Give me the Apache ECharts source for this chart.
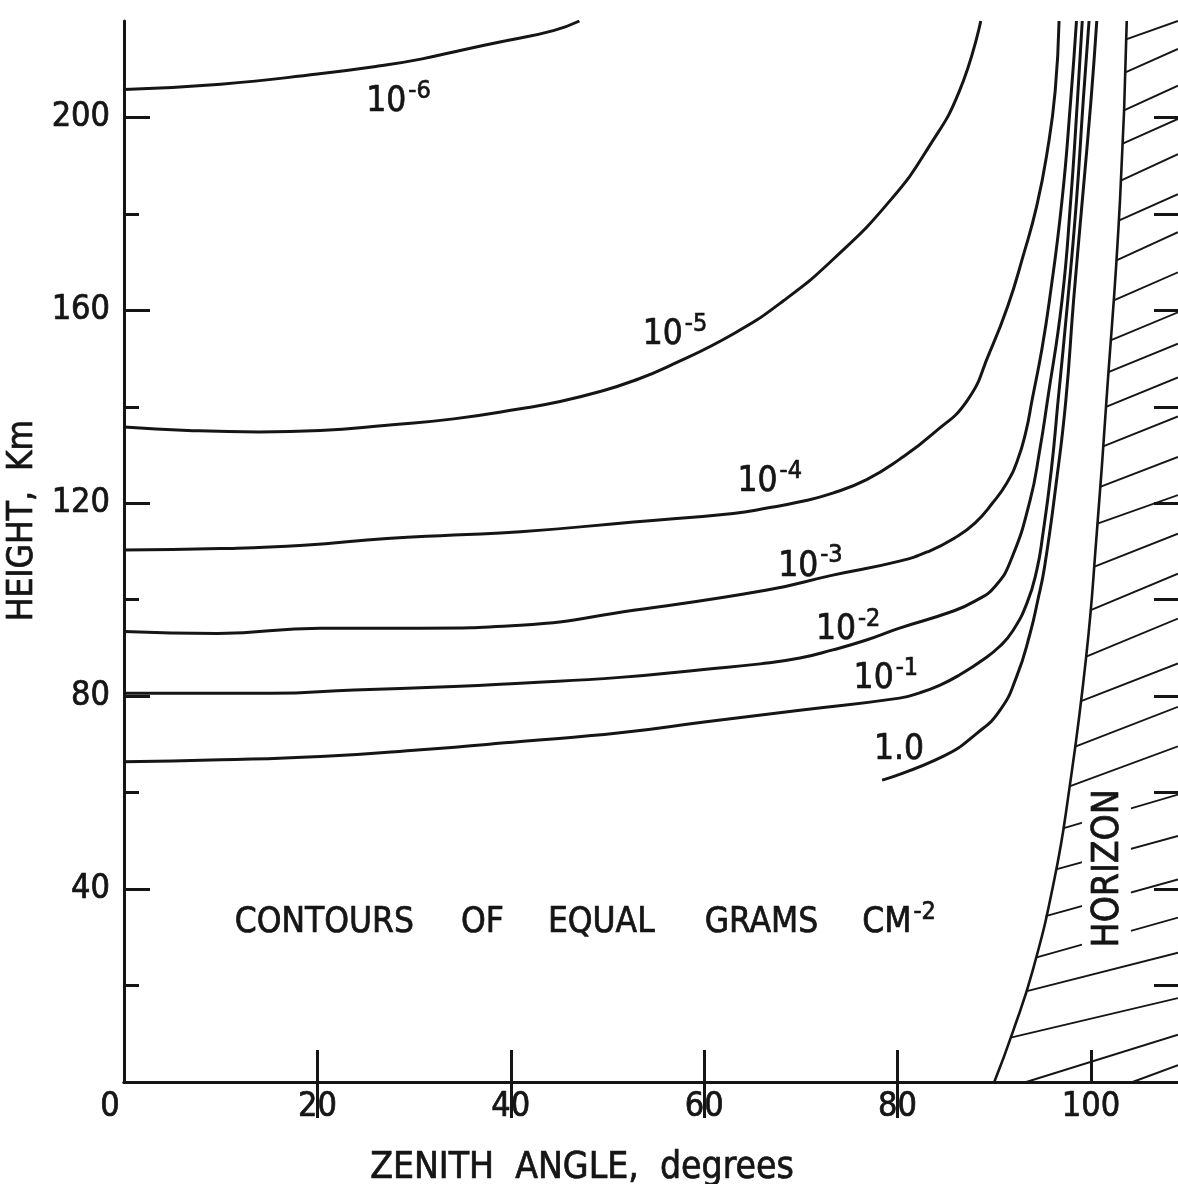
<!DOCTYPE html>
<html><head><meta charset="utf-8">
<script src="https://cdn.jsdelivr.net/npm/echarts@6/dist/echarts.min.js"></script>
<style>html,body{margin:0;padding:0;background:#fff}#c{width:1178px;height:1184px}</style>
</head><body><div id="c"></div>
<script>
// ---------------- data (zenith angle in degrees, height in km) ----------------
const xLabelValues = [0, 20, 40, 60, 80, 100];
const xBottomTicks = [20, 40, 60, 80, 100];
const xTopTicks = [20, 40, 60, 80];
const yLabelValues = [40, 80, 120, 160, 200];
const yMinorTicks = [20, 60, 100, 140, 180];
const yRightTicks = [20, 40, 60, 80, 100, 120, 140, 160, 180, 200];

const contour1e6 = [[0,205.8],[10,206.9],[20,209.0],[26.5,210.7],[30.7,212.1],[35,214.0],[39.5,215.9],[44.4,218.0],[47.1,220]];
const contour1e5 = [[0,135.8],[6.6,135.1],[14,134.8],[20.3,135.1],[27.2,136.2],[34.1,137.5],[41,139.6],[45.1,141.1],[49.3,143.2],[52.7,145.4],[56.2,148.3],[63,155.1],[68.2,162],[73.4,170.7],[79.2,182.7],[83.3,194.1],[86.4,205.5],[88.6,220]];
const contour1e4 = [[0,110.3],[10,110.6],[18.6,111.3],[27.2,112.7],[34.1,113.4],[41,114.1],[52.7,116.1],[63.0,117.9],[66.5,119.0],[69.9,120.3],[73.3,122.1],[76.8,124.9],[80.2,129.1],[83.7,134.5],[87.2,141.3],[89.5,151.2],[91.4,160.9],[93.0,171.4],[94.4,181.7],[95.5,193.2],[96.3,205.5],[96.7,220]];
const contour1e3 = [[0,93.4],[9.7,93.0],[20.3,94.1],[30.7,94.1],[41,94.7],[52.7,97.8],[66.5,102],[73.3,105.1],[80.2,108.0],[83.3,110.1],[85.9,112.8],[88.0,115.9],[89.8,120.0],[91.3,124.2],[92.4,128.9],[93.3,135.1],[93.9,141.3],[94.9,151.7],[95.7,162],[97.0,182.7],[97.9,203.5],[98.5,220]];
const contour1e2 = [[0,80.6],[9,80.6],[15.2,80.6],[23.8,81.3],[34.1,82.0],[41,82.7],[51.3,83.9],[60.2,85.6],[65.8,86.7],[69.9,87.9],[73.3,89.6],[76.7,91.6],[80.2,94.1],[85.4,97.4],[88.0,99.7],[90.1,102.8],[91.8,108.6],[93.7,120.6],[94.7,131.0],[95.5,141.3],[97.0,162],[97.9,182.7],[98.6,203.5],[99.1,220]];
const contour1e1 = [[0,66.4],[10,66.8],[20.3,67.5],[30.7,68.9],[41,70.6],[51.3,72.4],[60.2,74.7],[69.9,77.1],[80.2,79.6],[82.3,80.7],[84.4,82.3],[86.4,84.4],[88.8,87.5],[90.6,90.4],[91.9,93.5],[93.4,99.4],[94.4,106.2],[95.0,113.2],[95.9,126.9],[96.6,141.3],[97.6,162],[98.5,182.7],[99.2,203.5],[99.8,220]];
const contour1e0 = [[78.4,62.6],[84.7,67.5],[88.2,72.3],[90.6,77.1],[92.3,84.0],[93.7,93.0],[94.5,99.9],[95.2,106.8],[96.4,124.1],[97.4,141.3],[98.2,162],[99.1,182.7],[100.0,203.5],[100.6,220]];
const horizon = [[90,0],[91.9,10.3],[94.0,23.3],[96.2,41.9],[97.6,58.5],[99.5,88.1],[100.6,113.8],[101.6,141.3],[103.0,182.7],[103.7,220]];

// hatch strokes right of the horizon: height where each leaves the horizon, height at the right edge
const hatchStartKm = [216.2,209.3,201.4,194.5,186.9,178.6,170.3,162.0,153.8,147.2,140.0,131.8,123.4,115.8,106.8,97.8,88.2,78.9,69.5,61.3,52.6,44.1,34.4,25.8,18.8,9.2];
const hatchEndKm   = [220.0,214.2,206.6,199.7,192.4,184.1,176.2,167.9,159.6,153.1,146.1,138.0,129.6,121.7,113.7,105.4,96.1,86.8,77.8,69.6,59.6,51.0,42.0,34.1,26.8,17.4];
// strokes that start on the ground line: [start angle, end height]
const hatchGround = [[93.3, 9.8],[104.3, 3.5]];

const contourNames = ['10^-6','10^-5','10^-4','10^-3','10^-2','10^-1','1.0'];
const contourLabelPos = [[25.0,203.2],[53.6,154.9],[63.4,124.5],[67.6,106.9],[71.5,93.7],[75.4,83.5],[77.5,68.8]];
const noteWords = ['CONTOURS', 'OF', 'EQUAL', 'GRAMS', 'CM'];
const noteExponent = '-2';
const notePos = [11.4, 33.0];
const horizonText = 'HORIZON';
const horizonPos = [101.6, 44.3];

// ---------------- build ----------------
const FONT = '"Liberation Sans Narrow","DejaVu Sans Condensed","Arial Narrow",sans-serif';
const INK = '#151515';
const TB = { textBorderColor: INK, textBorderWidth: 0.7 };
const X_MAX = 109, Y_MAX = 220;

function horizonAngleAt(h) {
  for (let i = 0; i < horizon.length - 1; i++) {
    const a = horizon[i], b = horizon[i + 1];
    if (h >= a[1] && h <= b[1]) return a[0] + (b[0] - a[0]) * (h - a[1]) / (b[1] - a[1]);
  }
  return horizon[horizon.length - 1][0];
}
const hatchSegments = hatchStartKm.map((h, i) => ({ coords: [[horizonAngleAt(h), h], [X_MAX, hatchEndKm[i]]] }))
  .concat(hatchGround.map(g => ({ coords: [[g[0], 0], [X_MAX, g[1]]] })));

function richPow(t) {
  const p = t.split('^');
  return p.length > 1 ? '{b|' + p[0] + '}{s|' + p[1] + '}' : '{b|' + t + '}';
}
const wordGaps = [47, 44, 50, 44, 0];
const richStyles = {
  b: Object.assign({ fontFamily: FONT, fontSize: 35, lineHeight: 46, color: INK }, TB),
  s: Object.assign({ fontFamily: FONT, fontSize: 25, lineHeight: 26, verticalAlign: 'top', color: INK, padding: [0, 0, 0, 2] }, TB)
};
wordGaps.forEach((g, i) => {
  richStyles['w' + i] = Object.assign({ fontFamily: FONT, fontSize: 35, lineHeight: 46, color: INK, padding: [0, g, 0, 0] }, TB);
});
const noteLabel = noteWords.map((w, i) => '{w' + i + '|' + w + '}').join('') + '{s|' + noteExponent + '}';

const contourSets = [contour1e6, contour1e5, contour1e4, contour1e3, contour1e2, contour1e1, contour1e0];
const lineSeries = contourSets.map((d, i) => ({
  name: contourNames[i], type: 'line', data: d, symbol: 'none', smooth: 0.5,
  lineStyle: { color: INK, width: 3 }, z: 3, silent: true, clip: true
}));
lineSeries.push({
  name: 'horizon', type: 'line', data: horizon, symbol: 'none', smooth: 0.5,
  lineStyle: { color: INK, width: 2.6 }, z: 3, silent: true
});

const annotData = contourLabelPos.map((p, i) => ({
  value: p, label: { formatter: richPow(contourNames[i]) }
}));
annotData.push({ value: notePos, label: { formatter: noteLabel } });
annotData.push({
  value: horizonPos,
  label: Object.assign({ formatter: horizonText, position: 'inside', rotate: 90, align: 'center', verticalAlign: 'middle',
    fontFamily: FONT, fontSize: 37, color: INK, backgroundColor: '#fff', padding: [8, 6, 4, 6], distance: 0 }, TB)
});

const axisText = Object.assign({ fontFamily: FONT, fontSize: 34, color: INK }, TB);

const option = {
  backgroundColor: '#fff',
  animation: false,
  grid: { left: 124, top: 21, width: 1054, height: 1061, outerBoundsMode: 'none', containLabel: false },
  xAxis: [
    { type: 'value', position: 'bottom', min: 0, max: X_MAX, interval: 20,
      axisLine: { show: true, lineStyle: { color: INK, width: 3 } },
      axisTick: { show: true, inside: true, length: 32, customValues: xBottomTicks, lineStyle: { color: INK, width: 3 } },
      axisLabel: Object.assign({ customValues: xLabelValues, margin: 8,
        formatter: v => v === 0 ? '{o|0}' : String(v),
        rich: { o: Object.assign({ fontFamily: FONT, fontSize: 34, color: INK, padding: [0, 28, 0, 0] }, TB) } }, axisText),
      splitLine: { show: false },
      name: 'ZENITH  ANGLE,  degrees', nameLocation: 'middle', nameGap: 68,
      nameTextStyle: Object.assign({ fontFamily: FONT, fontSize: 37, color: INK, padding: [0, 138, 0, 0] }, TB) },
    { type: 'value', position: 'top', min: 0, max: X_MAX, interval: 20,
      axisLine: { show: true, lineStyle: { color: INK, width: 3 } },
      axisTick: { show: true, inside: true, length: 36, customValues: xTopTicks, lineStyle: { color: INK, width: 3 } },
      axisLabel: { show: false }, splitLine: { show: false } }
  ],
  yAxis: [
    { type: 'value', position: 'left', min: 0, max: Y_MAX, interval: 40,
      axisLine: { show: true, lineStyle: { color: INK, width: 3 } },
      axisTick: { show: true, inside: true, length: 26, customValues: yLabelValues, lineStyle: { color: INK, width: 3 } },
      axisLabel: Object.assign({ customValues: yLabelValues, margin: 14 }, axisText),
      splitLine: { show: false },
      name: 'HEIGHT,  Km', nameLocation: 'middle', nameGap: 77,
      nameTextStyle: Object.assign({ fontFamily: FONT, fontSize: 35, color: INK, padding: [0, 0, 0, 62] }, TB) },
    { type: 'value', position: 'left', min: 0, max: Y_MAX, interval: 20,
      axisLine: { show: false },
      axisTick: { show: true, inside: true, length: 15, customValues: yMinorTicks, lineStyle: { color: INK, width: 3 } },
      axisLabel: { show: false }, splitLine: { show: false } },
    { type: 'value', position: 'right', min: 0, max: Y_MAX, interval: 20,
      axisLine: { show: false },
      axisTick: { show: true, inside: true, length: 24, customValues: yRightTicks, lineStyle: { color: INK, width: 3 } },
      axisLabel: { show: false }, splitLine: { show: false } }
  ],
  series: [
    { name: 'hatch', type: 'lines', coordinateSystem: 'cartesian2d', xAxisIndex: 0, yAxisIndex: 0,
      data: hatchSegments, lineStyle: { color: INK, width: 1.9, opacity: 1 }, z: 2, silent: true }
  ].concat(lineSeries).concat([
    { name: 'labels', type: 'scatter', data: annotData, symbolSize: 1, itemStyle: { color: 'transparent', opacity: 1 },
      z: 10, silent: true,
      label: { show: true, position: 'right', distance: 0, align: 'left', verticalAlign: 'middle', rich: richStyles,
        fontFamily: FONT, fontSize: 35, color: INK, opacity: 1 } }
  ])
};

const chart = echarts.init(document.getElementById('c'), null, { renderer: 'canvas' });
chart.setOption(option);
</script>
</body></html>
